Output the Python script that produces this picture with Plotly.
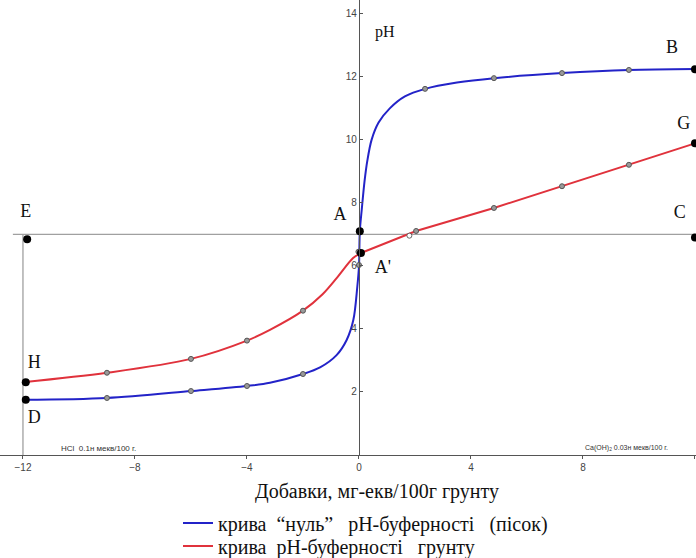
import plotly.graph_objects as go

# ---- data ----
# "zero" buffer curve (sand) - blue
blue_x = [-12, -9, -6, -4, -3.18, -2, -1.39, -0.8, -0.44, -0.2, -0.06, 0.0, 0.03, 0.1, 0.2, 0.3, 0.45, 0.7, 1.1, 1.64, 2.36, 3.5, 4.82, 7.25, 9.64, 12]
blue_y = [1.75, 1.81, 2.03, 2.19, 2.29, 2.57, 2.78, 3.17, 3.65, 4.29, 5.34, 5.98, 7.1, 7.8, 8.7, 9.35, 10.0, 10.55, 11.0, 11.38, 11.62, 11.82, 11.96, 12.12, 12.22, 12.25]
# soil buffer curve - red (acid branch and alkaline branch)
red_left_x = [-12, -9, -6, -4, -3.18, -2, -1.3, -0.79, -0.21, 0.07]
red_left_y = [2.31, 2.61, 3.05, 3.63, 3.97, 4.58, 5.1, 5.62, 6.25, 6.41]
red_right_x = [0.07, 2.04, 4.82, 7.25, 9.64, 12]
red_right_y = [6.41, 7.11, 7.84, 8.53, 9.21, 9.89]

# measured points
blue_pts_x = [-9, -6, -4, -2, 0.0, 2.36, 4.82, 7.25, 9.64]
blue_pts_y = [1.81, 2.03, 2.19, 2.57, 6.03, 11.62, 11.96, 12.12, 12.22]
red_pts_x = [-9, -6, -4, -2, -0.02, 2.04, 4.82, 7.25, 9.64]
red_pts_y = [2.61, 3.05, 3.63, 4.58, 6.45, 7.11, 7.84, 8.53, 9.21]
open_pt_x = [1.8]
open_pt_y = [6.96]

# labelled points
lab_names = ["E", "A", "C", "B", "G", "A'", "H", "D"]
lab_x = [-11.85, 0.03, 12, 12, 12, 0.07, -11.9, -11.9]
lab_y = [6.85, 7.1, 6.9, 12.24, 9.89, 6.41, 2.31, 1.75]
text_x = [-11.9, -0.68, 11.46, 11.18, 11.6, 0.85, -11.6, -11.6]
text_y = [7.7, 7.6, 7.68, 12.9, 10.5, 5.92, 2.9, 1.16]

# reference lines (neutral pH and left boundary)
neutral_x = [-12.36, 12.05]
neutral_y = [7.0, 7.0]
left_x = [-12, -12]
left_y = [0, 7.0]

x_ticks = [-12, -8, -4, 0, 4, 8, 12]
y_ticks = [2, 4, 6, 8, 10, 12, 14]

legend_blue = "крива  “нуль”   pH-буферності   (пісок)"
legend_red = "крива  pH-буферності   грунту"
x_title = "Добавки, мг-екв/100г грунту"

BLUE = "#2323c8"
RED = "#e0323c"
GRAY = "#a0a0a0"
SERIF = "Liberation Serif, Times New Roman, serif"
SANS = "Liberation Sans, Arial, sans-serif"

fig = go.Figure()

fig.add_trace(go.Scatter(x=neutral_x, y=neutral_y, mode="lines",
                         line=dict(color=GRAY, width=1.3), showlegend=False, hoverinfo="skip"))
fig.add_trace(go.Scatter(x=left_x, y=left_y, mode="lines",
                         line=dict(color=GRAY, width=1.3), showlegend=False, hoverinfo="skip"))

fig.add_trace(go.Scatter(x=blue_x, y=blue_y, mode="lines", name=legend_blue, legend="legend",
                         line=dict(color=BLUE, width=2, shape="spline", smoothing=0.9)))
fig.add_trace(go.Scatter(x=red_left_x, y=red_left_y, mode="lines", name=legend_red,
                         legendgroup="red", legend="legend2",
                         line=dict(color=RED, width=2, shape="spline", smoothing=0.9)))
fig.add_trace(go.Scatter(x=red_right_x, y=red_right_y, mode="lines", showlegend=False,
                         legendgroup="red", legend="legend2", line=dict(color=RED, width=2)))

fig.add_trace(go.Scatter(x=blue_pts_x + red_pts_x, y=blue_pts_y + red_pts_y, mode="markers",
                         marker=dict(size=5, color="#9a9a9a", line=dict(color="#555555", width=1)),
                         showlegend=False))
fig.add_trace(go.Scatter(x=open_pt_x, y=open_pt_y, mode="markers",
                         marker=dict(size=5, color="white", line=dict(color="#666666", width=1)),
                         showlegend=False))
fig.add_trace(go.Scatter(x=lab_x, y=lab_y, mode="markers",
                         marker=dict(size=8, color="black"), showlegend=False))
fig.add_trace(go.Scatter(x=text_x, y=text_y, mode="text", text=lab_names,
                         textfont=dict(family=SERIF, size=18, color="#111111"),
                         showlegend=False))

annotations = [
    dict(x=0.93, y=13.42, xref="x", yref="y", text="pH", showarrow=False,
         font=dict(family=SERIF, size=16, color="#111111")),
    dict(x=-9.3, y=0.22, xref="x", yref="y", text="HCl  0.1н мекв/100 г.", showarrow=False,
         font=dict(family=SANS, size=8, color="#333333")),
    dict(x=9.56, y=0.22, xref="x", yref="y", text="Ca(OH)<sub>2</sub> 0.03н мекв/100 г.", showarrow=False,
         font=dict(family=SANS, size=7, color="#333333")),
    dict(x=376.5 / 696, y=(455 - 491) / 455, xref="paper", yref="paper", yanchor="middle",
         text=x_title, showarrow=False,
         font=dict(family=SERIF, size=20, color="#111111")),
]

legend_common = dict(xanchor="left", yanchor="middle",
                     font=dict(family=SERIF, size=20, color="#111111"),
                     bgcolor="rgba(0,0,0,0)", itemwidth=30)

fig.update_layout(
    width=696, height=558,
    margin=dict(l=0, r=0, t=0, b=103, autoexpand=False),
    paper_bgcolor="white", plot_bgcolor="white",
    annotations=annotations,
    showlegend=True,
    legend=dict(x=178 / 696, y=(455 - 523) / 455, **legend_common),
    legend2=dict(x=178 / 696, y=(455 - 546) / 455, **legend_common),
    xaxis=dict(range=[-12.82, 12.036], showgrid=False, zeroline=False,
               showline=True, linecolor="#555555", linewidth=1.3,
               tickvals=x_ticks, ticks="outside", ticklen=3, tickcolor="#555555",
               tickfont=dict(family=SANS, size=10, color="#444444")),
    yaxis=dict(range=[0, 14.44], showgrid=False, zeroline=False,
               anchor="free", position=12.82 / 24.856, side="left",
               showline=True, linecolor="#555555", linewidth=1.3,
               tickvals=y_ticks, ticks="inside", ticklen=3, tickcolor="#555555",
               tickfont=dict(family=SANS, size=10, color="#444444")),
)

fig.write_html("out.html", config={"displayModeBar": False},
               post_script="document.body.style.margin='0';document.body.style.overflow='hidden';")
